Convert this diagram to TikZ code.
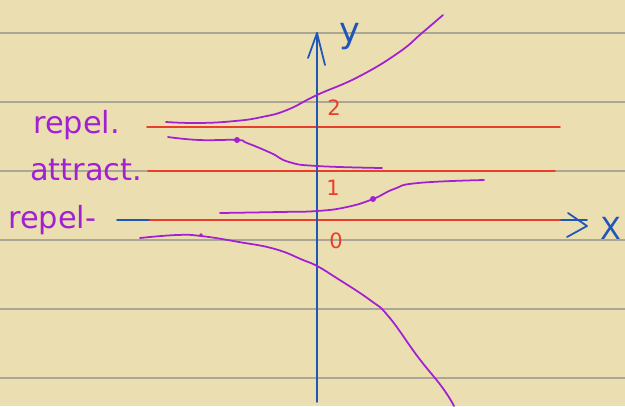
\documentclass[tikz,border=0pt]{standalone}
\usepackage{fontspec}
\setmainfont{DejaVu Sans}
\usepackage{xcolor}
\usetikzlibrary{arrows}
\definecolor{mypaper}{RGB}{235,223,178}
\definecolor{myrule}{RGB}{172,166,150}
\definecolor{myred}{RGB}{232,62,42}
\definecolor{myblue}{RGB}{32,86,184}
\definecolor{mypurple}{RGB}{162,32,210}

\begin{document}
\begin{tikzpicture}[x=0.03cm,y=-0.03cm,
 hand/.style={line width=1.5pt,line cap=round,line join=round},
 sol/.style={hand,color=mypurple},
 equil/.style={hand,color=myred},
 axis/.style={hand,color=myblue},
 note/.style={text=mypurple,font=\fontsize{26}{30}\selectfont,inner sep=0pt,anchor=base west},
 level/.style={text=myred,font=\fontsize{18}{21}\selectfont,inner sep=0pt}]
\useasboundingbox (0,0) rectangle (625,406);

%paper
\fill[mypaper] (0,0) rectangle (625,406);
\foreach \h in {33,102,...,378}{
 \draw[line width=1.3pt,color=myrule] (0,\h) -- (625,\h);
}

%x axis
\coordinate (O) at (317,220);
\coordinate (Xend) at (587,220);
\draw[axis] (117,220) -- (Xend);
\draw[axis] (568,213) -- (587,226) -- (567,237);

%equilibrium lines
\draw[equil] (147,127) -- (560,127);
\draw[equil] (148,171) -- (555,171);
\draw[equil] (150,220) -- (560,220);

%y axis
\coordinate (Ytop) at (317,33);
\draw[axis] (317,402) -- (Ytop);
\draw[axis] (308,58) -- (Ytop) -- (325,65);

%solution curves
\draw[sol] plot[smooth,tension=0.8] coordinates {(166,122) (199,123) (235,121) (262,117) (287,110) (317,95) (358,77) (398,53) (422,33) (443,15)};
\draw[sol] plot[smooth,tension=0.8] coordinates {(168,137) (199,140) (237,140) (247,143) (271,153) (289,162) (317,166) (382,168)};
\draw[sol] plot[smooth,tension=0.8] coordinates {(220,213) (279,212) (317,211) (347,207) (373,199) (394,189) (418,183) (484,180)};
\draw[sol] plot[smooth,tension=0.8] coordinates {(140,238) (177,235) (201,236) (239,242) (275,249) (303,260) (317,266) (335,277) (370,300) (389,317) (418,357) (442,387) (454,406)};
\fill[mypurple] (237,140) circle (3);
\fill[mypurple] (373,199) circle (3);
\fill[mypurple] (201,235) circle (1.8);

%labels
\node[note] (repeltop) at (33,133) {repel.};
\node[note] (attract) at (30,180) {attract.};
\node[note] (repelbot) at (8,228) {repel-};
\node[level] (lvltwo) at (334,108) {2};
\node[level] (lvlone) at (333,188) {1};
\node[level] (lvlzero) at (336,241) {0};
\node[text=myblue,font=\fontsize{30}{36}\selectfont,inner sep=0pt] (ylabel) at (350,37) {y};
\node[text=myblue,font=\fontsize{26}{31}\selectfont,inner sep=0pt] (xlabel) at (611,228) {X};

\end{tikzpicture}
\end{document}
